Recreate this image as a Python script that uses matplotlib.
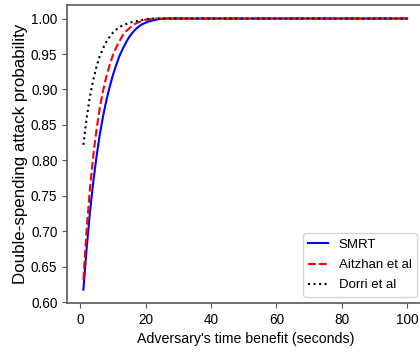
import matplotlib
matplotlib.use('Agg')
from matplotlib import pyplot as plt

# adversary time benefit (seconds) -- dense where the curves bend, plateau after
time_benefit = list(range(1, 31)) + [40, 50, 60, 70, 80, 90, 100]

smrt = [0.618, 0.676, 0.727, 0.769, 0.805, 0.836, 0.862, 0.884, 0.903, 0.920,
        0.934, 0.947, 0.957, 0.966, 0.974, 0.980, 0.985, 0.989, 0.992, 0.994,
        0.996, 0.997, 0.998, 0.999, 0.9995, 1.0, 1.0, 1.0, 1.0, 1.0,
        1.0, 1.0, 1.0, 1.0, 1.0, 1.0, 1.0]
aitzhan = [0.632, 0.703, 0.760, 0.806, 0.843, 0.874, 0.898, 0.918, 0.934, 0.948,
           0.959, 0.968, 0.976, 0.982, 0.986, 0.990, 0.993, 0.995, 0.997, 0.998,
           0.999, 0.9995, 1.0, 1.0, 1.0, 1.0, 1.0, 1.0, 1.0, 1.0,
           1.0, 1.0, 1.0, 1.0, 1.0, 1.0, 1.0]
dorri = [0.822, 0.860, 0.890, 0.913, 0.932, 0.947, 0.958, 0.967, 0.974, 0.980,
         0.984, 0.988, 0.990, 0.992, 0.994, 0.995, 0.996, 0.997, 0.998, 0.999,
         0.9995, 1.0, 1.0, 1.0, 1.0, 1.0, 1.0, 1.0, 1.0, 1.0,
         1.0, 1.0, 1.0, 1.0, 1.0, 1.0, 1.0]

labels = ['SMRT', 'Aitzhan et al', 'Dorri et al']

# no narrow face installed, Liberation Sans is the slimmest one available
plt.rcParams['font.family'] = ['Liberation Sans', 'DejaVu Sans']

fig = plt.figure(figsize=(4.2, 3.55), dpi=100)
# the right spine falls just outside the picture in the reference
ax = fig.add_axes([0.160, 0.146, 0.848, 0.840])

ax.plot(time_benefit, smrt, '-', color='blue', lw=1.5, label=labels[0])
ax.plot(time_benefit, aitzhan, '--', color='red', lw=1.5, label=labels[1])
ax.plot(time_benefit, dorri, ':', color='black', lw=1.5, label=labels[2])

ax.set_xticks([0, 20, 40, 60, 80, 100])
ax.set_yticks([0.60, 0.65, 0.70, 0.75, 0.80, 0.85, 0.90, 0.95, 1.00])
ax.set_xlabel("Adversary's time benefit (seconds)", fontsize=10.2)
ax.set_ylabel('Double-spending attack probability', fontsize=12.2)
ax.yaxis.set_label_coords(-0.11, 0.5)
ax.tick_params(labelsize=9.8, color='0.35')
for sp in ax.spines.values():
    sp.set_color('0.35')
    sp.set_linewidth(1.2)

ax.legend(loc='lower right', fontsize=9.5, handlelength=1.5, labelspacing=0.6)

fig.savefig('out.png', dpi=100)
